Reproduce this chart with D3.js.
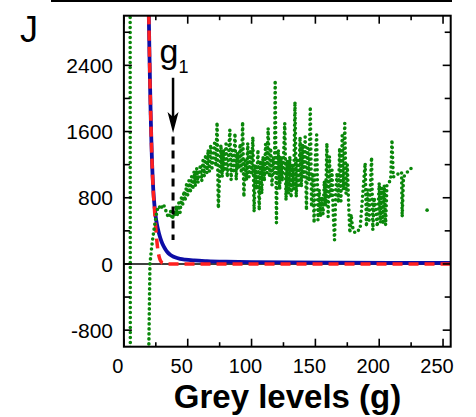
<!DOCTYPE html>
<html>
<head>
<meta charset="utf-8">
<script src="https://cdn.jsdelivr.net/npm/d3@7"></script>
<style>
  body { margin: 0; background: #fff; }
  svg text { font-family: "Liberation Sans", Arial, sans-serif; }
</style>
</head>
<body>
<div id="js-d3"></div>
<script>
(function() {
  var width, height, margin, x, y, svg, plot, lineFn, greenData, blueData, redData;

  width = 476;
  height = 417;

  // x ticks (grey levels) and y ticks
  var xTicksMajor = [0, 50, 100, 150, 200, 250];
  var xTicksMinor = [25, 75, 125, 175, 225];
  var yTicksMajor = [-800, 0, 800, 1600, 2400];
  var yTicksMinor = [-400, 400, 1200, 2000, 2800];

  // threshold marked with the arrow
  var g1 = 38.5;

  // blue curve (solid)
  var blueG = [19.0, 19.5, 20, 20.5, 21, 21.5, 22, 23, 24, 25, 26, 27, 28, 29, 30, 32, 34, 36, 38, 40, 44, 48, 55, 65, 80, 100, 130, 170, 210, 256];
  var blueV = [3400, 3000, 2550, 2150, 1800, 1500, 1250, 900, 700, 560, 470, 400, 340, 290, 250, 190, 145, 115, 95, 80, 62, 52, 42, 34, 27, 22, 18, 15, 13, 12];

  // red curve (dashed)
  var redG = [19.0, 19.5, 20, 20.5, 21, 21.5, 22, 23, 24, 25, 26, 27, 28, 29, 30, 32, 35, 40, 60, 100, 150, 200, 256];
  var redV = [3400, 3000, 2550, 2150, 1800, 1500, 1250, 880, 650, 430, 250, 130, 65, 30, 12, 3, 0, 0, 0, 0, 0, 0, 0];

  // green curve (dotted), null = no value
  var greenG = [4.8, 5.2, 19.1, 20.4, 21.8, 22.8, 24.4, 26, 27.5, 29, 30.5, 32, 33.5, 35, 36.5, 38, 39,
    40, 41, 42, 43, 44, 45, 46, 47, 48, 49, 50, 51, 52, 53, 54, 55, 56, 57, 58, 59, 60, 61, 62, 63, 64, 65, 66, 67, 68, 69, 70, 71, 72, 73, 74,
    75, 76, 77, 78, 79, 80, 81, 82, 83, 84, 85, 86, 87, 88, 89, 90, 91, 92, 93, 94, 95, 96, 97, 98, 99, 100,
    101, 102, 103, 104, 105, 106, 107, 108, 109, 110, 111, 112, 113, 114, 115, 116, 117, 118, 118.5, 119.5, 120,
    121, 122, 123, 124, 125, 126, 127, 128, 129, 130, 131, 132, 133, 134, 135, 136, 137, 138, 139, 140,
    141, 142, 143, 144, 145, 146, 147, 148, 149, 150, 151, 152, 153, 154, 155, 156, 157, 158, 159, 160,
    161, 162, 163, 164, 165, 166, 167, 168, 169, 170, 171, 172, 173, 174, 175, 176, 177, 178, 179, 181, 185,
    189, 190, 191, 192, 194, 195, 196, 197, 198.5, 200, 201, 202, 203, 204, 205, 206, 209, 210, 211, 214,
    217.5, 218, 219, 222, 224, 226, 230, 237.5, 240];
  var greenV = [6000, -6000, -1500, 0, 210, 330, 500, 650, 700, 660, 720, 690, 610, 560, 640, 540, 640,
    580, 700, 580, 740, 620, 800, 700, 880, 760, 960, 830, 1010, 860, 1060, 900, 1120, 940, 1160, 980, 1100, 1200, 1000, 1250, 1060, 1320, 1100, 1380, 1120, 1440, 1160, 1300, 1460, 1180, 1712, 673,
    1100, 1440, 1050, 1380, 1120, 1450, 1050, 1300, 1620, 1015, 1400, 1100, 1580, 1015, 1350, 1150, 1450, 1100, 1716, 810, 1250, 1015, 1460, 1050, 1380, 1100,
    1535, 630, 1200, 900, 1380, 650, 1250, 850, 1300, 1000, 1450, 1100, 1640, 1050, 1400, 950, 1300, 1100, 2220, 495, 1100,
    1380, 900, 1300, 1000, 1250, 1700, 770, 1250, 850, 1300, 800, 1200, 900, 1960, 810, 1250, 950, 1535, 930, 1450,
    1050, 1535, 650, 1400, 1000, 1900, 690, 1100, 495, 1300, 1560, 530, 900, 570, 810, 600, 1000, 700, 1460, 570,
    1300, 800, 1135, 600, 290, 900, 1100, 737, 1400, 760, 1550, 900, 1700, 850, 1200, 737, 375, 600, 450, 375, 420,
    1220, 450, 900, 500, 1290, 410, 800, 700, 450, 980, 500, 920, 480, 950, 470, 950, 1015, 1500, 1050, 1080,
    1110, 570, 1050, 1110, 1140, 1170, null, 650, null];

  margin = { left: 123.9, right: 476 - 450.7, top: 15.7, bottom: 417 - 346.7 };

  x = d3.scaleLinear().domain([0, 256]).range([margin.left, width - margin.right]);
  y = d3.scaleLinear().domain([-1000, 3000]).range([height - margin.bottom, margin.top]);

  blueData = blueG.map(function(g, i) { return [g, blueV[i]]; });
  redData = redG.map(function(g, i) { return [g, redV[i]]; });
  greenData = greenG.map(function(g, i) { return [g, greenV[i]]; });

  svg = d3.select('#js-d3').append('svg')
    .attr('width', width)
    .attr('height', height);

  // bottom edge of the panel above
  svg.append('line')
    .attr('x1', 51).attr('x2', 452)
    .attr('y1', 1).attr('y2', 1)
    .attr('stroke', '#000').attr('stroke-width', 2);

  svg.append('defs').append('clipPath').attr('id', 'clip')
    .append('rect')
    .attr('x', x(0)).attr('y', y(3000))
    .attr('width', x(256) - x(0)).attr('height', y(-1000) - y(3000));

  plot = svg.append('g').attr('clip-path', 'url(#clip)');

  // zero line
  plot.append('line')
    .attr('x1', x(0)).attr('x2', x(256))
    .attr('y1', y(0)).attr('y2', y(0))
    .attr('stroke', '#000').attr('stroke-width', 1.5);

  lineFn = d3.line()
    .defined(function(d) { return d[1] !== null; })
    .x(function(d) { return x(d[0]); })
    .y(function(d) { return y(d[1]); })
    .curve(d3.curveMonotoneX);

  plot.append('path')
    .attr('d', lineFn(blueData))
    .attr('fill', 'none')
    .attr('stroke', '#0d0da6')
    .attr('stroke-width', 3.8);

  plot.append('path')
    .attr('d', lineFn(redData))
    .attr('fill', 'none')
    .attr('stroke', '#ff1f1f')
    .attr('stroke-width', 3.5)
    .attr('stroke-dasharray', '10,6');

  plot.append('path')
    .attr('d', d3.line()
      .defined(function(d) { return d[1] !== null; })
      .x(function(d) { return x(d[0]); })
      .y(function(d) { return y(d[1]); })(greenData))
    .attr('fill', 'none')
    .attr('stroke', '#0a870a')
    .attr('stroke-width', 3.6)
    .attr('stroke-linecap', 'round')
    .attr('stroke-dasharray', '0,5');

  // isolated green points (no neighbours to join)
  plot.selectAll('circle.iso')
    .data(greenData.filter(function(d, i) {
      return d[1] !== null && (i === 0 || greenData[i - 1][1] === null) &&
        (i === greenData.length - 1 || greenData[i + 1][1] === null);
    }))
    .enter().append('circle')
    .attr('class', 'iso')
    .attr('cx', function(d) { return x(d[0]); })
    .attr('cy', function(d) { return y(d[1]); })
    .attr('r', 1.8)
    .attr('fill', '#0a870a');

  // g1 marker: dashed line + arrow
  svg.append('line')
    .attr('x1', x(g1)).attr('x2', x(g1))
    .attr('y1', y(1540)).attr('y2', y(290))
    .attr('stroke', '#000').attr('stroke-width', 3)
    .attr('stroke-dasharray', '8,6');

  svg.append('line')
    .attr('x1', x(g1)).attr('x2', x(g1))
    .attr('y1', y(2250)).attr('y2', y(1760))
    .attr('stroke', '#000').attr('stroke-width', 2.5);

  svg.append('path')
    .attr('d', 'M' + x(g1) + ',' + y(1583) +
      'L' + (x(g1) - 5.5) + ',' + (y(1583) - 21) +
      'L' + x(g1) + ',' + (y(1583) - 16) +
      'L' + (x(g1) + 5.5) + ',' + (y(1583) - 21) + 'Z')
    .attr('fill', '#000');

  var gLabel = svg.append('text')
    .attr('x', x(g1) - 13.5)
    .attr('y', 62.5)
    .attr('font-size', 34)
    .text('g');
  gLabel.append('tspan')
    .attr('font-size', 18)
    .attr('dy', 10.5)
    .text('1');

  // frame
  svg.append('rect')
    .attr('x', x(0)).attr('y', y(3000))
    .attr('width', x(256) - x(0)).attr('height', y(-1000) - y(3000))
    .attr('fill', 'none').attr('stroke', '#000').attr('stroke-width', 2);

  // inward ticks on all four sides
  var tickGroup = svg.append('g').attr('stroke', '#000').attr('stroke-width', 1.6);
  [[xTicksMajor, 8], [xTicksMinor, 4.5]].forEach(function(t) {
    tickGroup.selectAll(null).data(t[0]).enter().append('line')
      .attr('x1', function(d) { return x(d); }).attr('x2', function(d) { return x(d); })
      .attr('y1', y(-1000)).attr('y2', y(-1000) - t[1]);
    tickGroup.selectAll(null).data(t[0]).enter().append('line')
      .attr('x1', function(d) { return x(d); }).attr('x2', function(d) { return x(d); })
      .attr('y1', y(3000)).attr('y2', y(3000) + t[1]);
  });
  [[yTicksMajor, 8], [yTicksMinor, 6]].forEach(function(t) {
    tickGroup.selectAll(null).data(t[0]).enter().append('line')
      .attr('y1', function(d) { return y(d); }).attr('y2', function(d) { return y(d); })
      .attr('x1', x(0)).attr('x2', x(0) + t[1]);
    tickGroup.selectAll(null).data(t[0]).enter().append('line')
      .attr('y1', function(d) { return y(d); }).attr('y2', function(d) { return y(d); })
      .attr('x1', x(256)).attr('x2', x(256) - t[1]);
  });

  // tick labels
  svg.selectAll('text.xt').data(xTicksMajor).enter().append('text')
    .attr('class', 'xt')
    .attr('x', function(d) { return x(d) - 6; })
    .attr('y', 373)
    .attr('text-anchor', 'middle')
    .attr('font-size', 20)
    .text(function(d) { return d; });

  svg.selectAll('text.yt').data(yTicksMajor).enter().append('text')
    .attr('class', 'yt')
    .attr('x', 113)
    .attr('y', function(d) { return y(d); })
    .attr('dy', '0.36em')
    .attr('text-anchor', 'end')
    .attr('font-size', 21)
    .text(function(d) { return d; });

  // axis title
  svg.append('text')
    .attr('x', 287.5)
    .attr('y', 408)
    .attr('text-anchor', 'middle')
    .attr('font-size', 33)
    .attr('font-weight', 'bold')
    .text('Grey levels (g)');

  // panel letter
  svg.append('text')
    .attr('x', 20)
    .attr('y', 41.5)
    .attr('font-size', 36)
    .text('J');

}).call(this);
</script>
</body>
</html>
